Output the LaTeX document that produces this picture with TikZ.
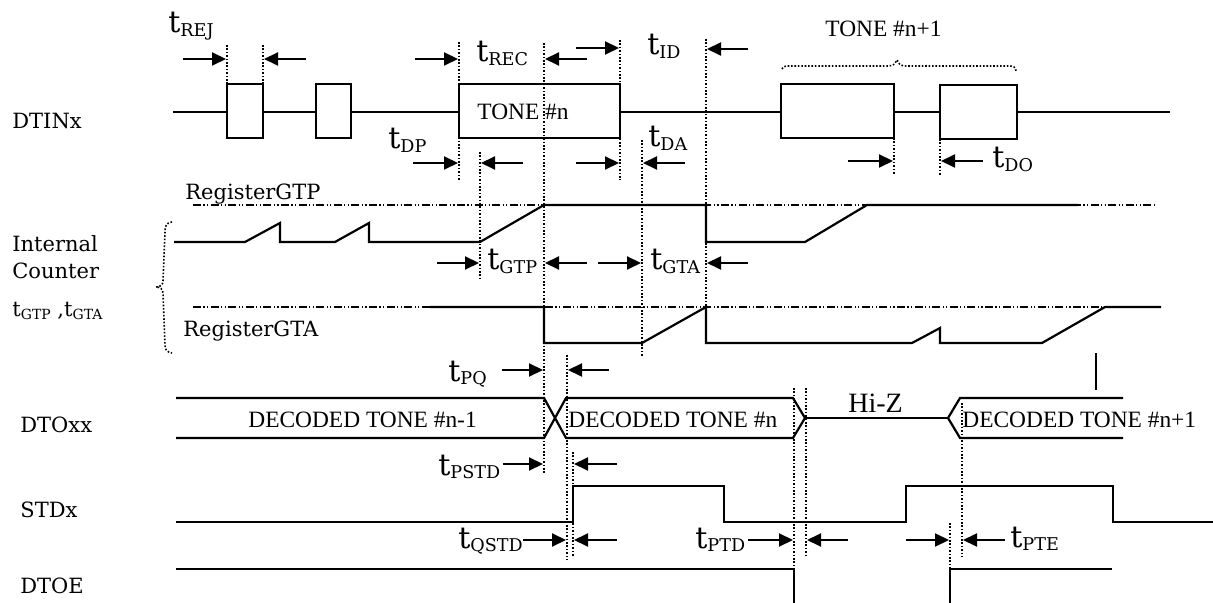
\documentclass[tikz,border=0pt]{standalone}
\usepackage{fontspec}
\setmainfont{DejaVu Serif}
\newfontfamily\timesfont{Liberation Serif}
\usetikzlibrary{arrows.meta}
\tikzset{
  sig/.style={line width=1.1pt},
  guide/.style={line width=0.8pt, dash pattern=on 0.8pt off 0.9pt},
  reg/.style={line width=0.8pt, dash pattern=on 4pt off 1.2pt on 0.6pt off 1.2pt on 0.6pt off 1.2pt},
  dim/.style={line width=1pt, -{Triangle[length=7pt,width=6.5pt]}},
  lbl/.style={inner sep=0pt, anchor=base west, font=\fontsize{10.5}{12}\selectfont},
  tlbl/.style={inner sep=0pt, anchor=base west},
  sigtxt/.style={inner sep=0pt, anchor=base west, font=\timesfont\fontsize{11.7}{13}\selectfont},
}
\newcommand{\tdelay}[1]{{\fontsize{15}{17}\selectfont t}\raisebox{-1.8pt}{\fontsize{8.8}{10}\selectfont #1}}
\newcommand{\tsmall}[1]{t\raisebox{-1.5pt}{\fontsize{7}{8}\selectfont #1}}

\begin{document}
\begin{tikzpicture}[x=0.5pt,y=-0.5pt]
   \useasboundingbox (0,0) rectangle (1213,603);
   % row labels
   \node[lbl] (dtin) at (12,129) {DTINx};
   \node[lbl] (cnt1) at (12,252) {Internal};
   \node[lbl] (cnt2) at (12,279) {Counter};
   \node[lbl] (cnt3) at (12,317) {\tsmall{GTP} ,\tsmall{GTA}};
   \node[lbl] (dto) at (20,432) {DTOxx};
   \node[lbl] (std) at (20,517) {STDx};
   \node[lbl] (dtoe) at (20,593) {DTOE};
   \node[lbl] (rgtp) at (185,200) {RegisterGTP};
   \node[lbl] (rgta) at (183,337) {RegisterGTA};
   \draw[guide] (172,222) .. controls (166,223) and (165,226) .. (165,232) -- (163,281)
      .. controls (163,285) and (160,287) .. (156,287) .. controls (160,287) and (163,289) .. (163,293)
      -- (165,345) .. controls (165,350) and (167,352) .. (172,353);

   % DTINx
   \draw[sig] (173,112) -- (227,112) (263,112) -- (316,112) (351,112) -- (459,112)
      (620,112) -- (781,112) (894,112) -- (940,112) (1017,112) -- (1170,112);
   \draw[sig] (227,84) rectangle (263,138);
   \draw[sig] (316,84) rectangle (351,138);
   \draw[sig] (459,84) rectangle (620,138);
   \draw[sig] (781,84) rectangle (894,138);
   \draw[sig] (940,85) rectangle (1017,139);
   \node[sigtxt] (tn) at (477,120) {TONE \#n};
   \node[sigtxt] (tn1) at (825,37) {TONE \#n+1};
   \draw[guide] (782,69) .. controls (783,66) and (786,66) .. (792,66) -- (888,66)
      .. controls (894,66) and (896,63) .. (897,60) .. controls (898,63) and (900,66) .. (906,66)
      -- (1008,66) .. controls (1013,66) and (1016,67) .. (1016,71);

   % guide lines
   \draw[guide] (227,45) -- (227,84) (263,45) -- (263,84);
   \draw[guide] (459,42) -- (459,180);
   \draw[guide] (480,152) -- (480,278);
   \draw[guide] (544,43) -- (544,473);
   \draw[guide] (620,40) -- (620,180);
   \draw[guide] (642,140) -- (642,357);
   \draw[guide] (706,39) -- (706,307);
   \draw[guide] (894,138) -- (894,175) (940,139) -- (940,175);
   \draw[guide] (567,355) -- (567,560);
   \draw[guide] (573,452) -- (573,557);
   \draw[guide] (794,388) -- (794,569);
   \draw[guide] (806,388) -- (806,557);
   \draw[guide] (962,403) -- (962,557);
   \draw[guide] (950,523) -- (950,569);

   % timing labels and arrows
   \node[tlbl] (trej) at (168,33) {\tdelay{REJ}};
   \draw[dim] (183,59) -- (226,59);
   \draw[dim] (306,59) -- (264,59);
   \node[tlbl] (trec) at (476,62) {\tdelay{REC}};
   \draw[dim] (415,59) -- (458,59);
   \draw[dim] (587,59) -- (545,59);
   \node[tlbl] (tid) at (647,55) {\tdelay{ID}};
   \draw[dim] (576,48) -- (619,48);
   \draw[dim] (748,49) -- (707,49);
   \node[tlbl] (tdp) at (388,149) {\tdelay{DP}};
   \draw[dim] (413,163) -- (458,163);
   \draw[dim] (523,163) -- (481,163);
   \node[tlbl] (tda) at (648,147) {\tdelay{DA}};
   \draw[dim] (576,163) -- (619,163);
   \draw[dim] (685,163) -- (643,163);
   \node[tlbl] (tdo) at (992,168) {\tdelay{DO}};
   \draw[dim] (848,161) -- (893,161);
   \draw[dim] (983,161) -- (941,161);
   \node[tlbl] (tgtp) at (487,270) {\tdelay{GTP}};
   \draw[dim] (437,263) -- (479,263);
   \draw[dim] (587,263) -- (545,263);
   \node[tlbl] (tgta) at (650,270) {\tdelay{GTA}};
   \draw[dim] (598,263) -- (641,263);
   \draw[dim] (748,263) -- (707,263);
   \node[tlbl] (tpq) at (448,381) {\tdelay{PQ}};
   \draw[dim] (502,370) -- (543,370);
   \draw[dim] (609,370) -- (568,370);
   \node[tlbl] (tpstd) at (438,475) {\tdelay{PSTD}};
   \draw[dim] (503,464) -- (543,464);
   \draw[dim] (617,464) -- (574,464);
   \node[tlbl] (tqstd) at (458,548) {\tdelay{QSTD}};
   \draw[dim] (523,540) -- (566,540);
   \draw[dim] (617,540) -- (574,540);
   \node[tlbl] (tptd) at (695,548) {\tdelay{PTD}};
   \draw[dim] (748,540) -- (793,540);
   \draw[dim] (848,540) -- (807,540);
   \node[tlbl] (tpte) at (1010,547) {\tdelay{PTE}};
   \draw[dim] (906,540) -- (949,540);
   \draw[dim] (1005,540) -- (963,540);

   % internal counter
   \draw[reg] (193,205) -- (1155,205);
   \draw[reg] (193,307) -- (1155,307);
   \draw[sig] (174,242) -- (245,242) -- (280,223) -- (280,242) -- (335,242) -- (369,223) -- (369,242)
      -- (480,242) -- (544,205) -- (706,205) -- (706,242) -- (805,242) -- (867,205) -- (1078,205);
   \draw[sig] (430,307) -- (544,307) -- (544,343) -- (642,343) -- (706,307) -- (706,343) -- (912,343)
      -- (940,328) -- (940,343) -- (1042,343) -- (1105,307) -- (1161,307);
   \draw[line width=1pt] (1096,353) -- (1096,390);

   % DTOxx
   \draw[sig] (176,398) -- (544,398) -- (566,438) -- (793,438) -- (805,418) -- (793,398) -- (566,398)
      -- (544,438) -- (176,438);
   \draw[sig] (805,418) -- (948,418);
   \draw[sig] (1123,398) -- (960,398) -- (948,418) -- (960,438) -- (1123,438);
   \node[sigtxt] (dn0) at (248,428) {DECODED TONE \#n-1};
   \node[sigtxt] (dn1) at (568,428) {DECODED TONE \#n};
   \node[sigtxt] (dn2) at (962,428) {DECODED TONE \#n+1};
   \node[sigtxt, font=\timesfont\fontsize{14}{16}\selectfont] (hiz) at (848,412) {Hi-Z};

   % STDx, DTOE
   \draw[sig] (176,522) -- (573,522) -- (573,486) -- (724,486) -- (724,522) -- (906,522) -- (906,486)
      -- (1113,486) -- (1113,522) -- (1213,522);
   \draw[sig] (176,569) -- (794,569) -- (794,603);
   \draw[sig] (950,603) -- (950,569) -- (1112,569);
\end{tikzpicture}
\end{document}
